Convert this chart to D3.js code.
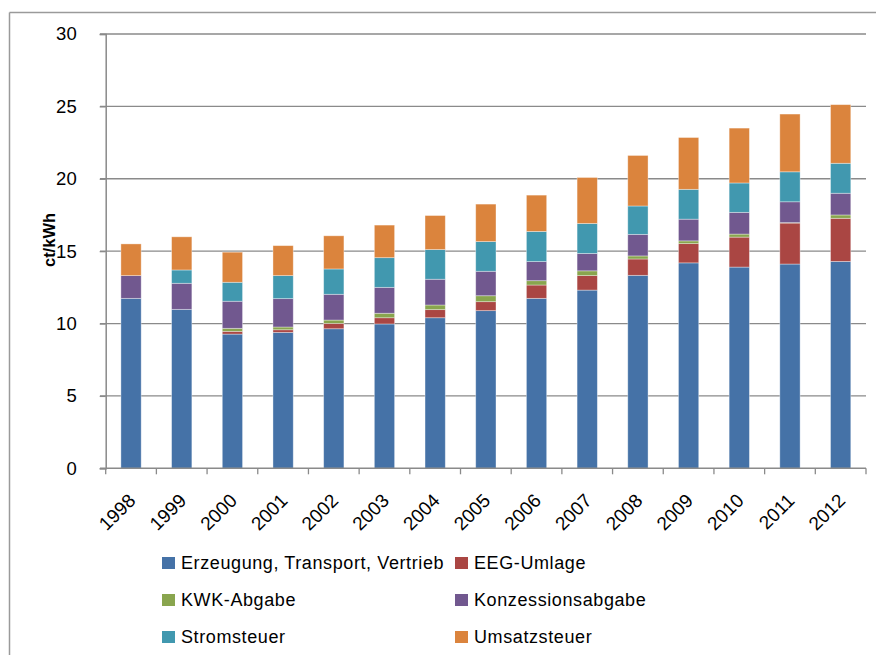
<!DOCTYPE html>
<html>
<head>
<meta charset="utf-8">
<script src="https://cdn.jsdelivr.net/npm/d3@7"></script>
<style>
  body { margin: 0; background: #fff; }
  svg { display: block; font-family: "Liberation Sans", Arial, sans-serif; }
</style>
</head>
<body>
<svg id="chart" width="876" height="655"></svg>
<script>
var years = ["1998", "1999", "2000", "2001", "2002", "2003", "2004", "2005", "2006", "2007", "2008", "2009", "2010", "2011", "2012"];
var seriesNames = ["Erzeugung, Transport, Vertrieb", "EEG-Umlage", "KWK-Abgabe", "Konzessionsabgabe", "Stromsteuer", "Umsatzsteuer"];
var erzeugung = [11.74, 10.98, 9.27, 9.39, 9.64, 9.97, 10.40, 10.89, 11.74, 12.31, 13.33, 14.19, 13.90, 14.11, 14.29];
var eeg = [0, 0, 0.19, 0.18, 0.37, 0.43, 0.56, 0.62, 0.92, 1.00, 1.13, 1.33, 2.07, 2.83, 2.98];
var kwk = [0, 0, 0.21, 0.19, 0.23, 0.31, 0.32, 0.41, 0.30, 0.33, 0.21, 0.19, 0.21, 0.03, 0.23];
var konzession = [1.57, 1.80, 1.87, 1.96, 1.78, 1.79, 1.78, 1.69, 1.32, 1.20, 1.49, 1.50, 1.50, 1.44, 1.50];
var stromsteuer = [0, 0.92, 1.31, 1.59, 1.75, 2.05, 2.05, 2.05, 2.08, 2.07, 1.96, 2.06, 2.03, 2.07, 2.07];
var umsatzsteuer = [2.19, 2.29, 2.08, 2.07, 2.29, 2.25, 2.35, 2.59, 2.51, 3.18, 3.49, 3.58, 3.79, 3.99, 4.05];
var yTicks = [0, 5, 10, 15, 20, 25, 30];
var colors = ["#4572A7", "#AA4643", "#89A54E", "#71588F", "#4198AF", "#DB843D"];

var svg = d3.select("#chart");
var gridColor = "#8a8a8a";

// table for the stack
var seriesValues = [erzeugung, eeg, kwk, konzession, stromsteuer, umsatzsteuer];
var rows = years.map(function(yr, i) {
  var r = { year: yr };
  seriesNames.forEach(function(n, k) { r[n] = seriesValues[k][i]; });
  return r;
});
var stacked = d3.stack().keys(seriesNames)(rows);

var x = d3.scaleBand().domain(years).range([105.7, 866]).paddingInner(0.6).paddingOuter(0.3);
var y = d3.scaleLinear().domain([0, 30]).range([468.3, 34]);

// outer frame (only top and left visible)
svg.append("line").attr("x1", 9.5).attr("y1", 12.5).attr("x2", 876).attr("y2", 12.5)
  .style("stroke", "#9a9a9a").style("stroke-width", "1.5px");
svg.append("line").attr("x1", 9.5).attr("y1", 12.5).attr("x2", 9.5).attr("y2", 655)
  .style("stroke", "#9a9a9a").style("stroke-width", "1.5px");

// gridlines
svg.append("g").selectAll("line")
  .data(yTicks.filter(function(t) { return t > 0; }))
  .enter().append("line")
  .attr("x1", 100).attr("x2", 866)
  .attr("y1", function(d) { return y(d); })
  .attr("y2", function(d) { return y(d); })
  .style("stroke", gridColor).style("stroke-width", "1.3px");

// bars
var barG = svg.append("g");
stacked.forEach(function(layer, k) {
  barG.append("g").selectAll("rect")
    .data(layer.filter(function(d) { return d[1] - d[0] > 0; }))
    .enter().append("rect")
    .attr("x", function(d) { return x(d.data.year); })
    .attr("width", x.bandwidth())
    .attr("y", function(d) { return y(d[1]); })
    .attr("height", function(d) { return y(d[0]) - y(d[1]); })
    .style("fill", colors[k])
    .style("stroke", "rgba(255,255,255,0.45)")
    .style("stroke-width", "0.8px");
});

// y axis
var yAxis = d3.axisLeft(y).tickValues(yTicks).tickSize(6).tickPadding(23);
var yg = svg.append("g").attr("transform", "translate(105.7,0)").call(yAxis);
yg.select(".domain").style("stroke", gridColor).style("stroke-width", "1.5px");
yg.selectAll(".tick line").style("stroke", gridColor).style("stroke-width", "1.3px");
yg.selectAll(".tick text").style("font-size", "18.5px").style("fill", "#000")
  .style("font-family", "Liberation Sans, Arial, sans-serif");

// x axis
var xg = svg.append("g").attr("transform", "translate(0,468.3)");
xg.append("line").attr("x1", 100).attr("x2", 866).attr("y1", 0).attr("y2", 0)
  .style("stroke", gridColor).style("stroke-width", "1.5px");
var bounds = [105.7].concat(years.map(function(yr) { return x(yr) - x.step() * x.paddingInner() / 2 + x.step(); }));
xg.selectAll(".xtick").data(bounds).enter().append("line")
  .attr("class", "xtick")
  .attr("x1", function(d) { return d; }).attr("x2", function(d) { return d; })
  .attr("y1", 0).attr("y2", 6)
  .style("stroke", gridColor).style("stroke-width", "1.3px");
svg.append("g").selectAll("text").data(years).enter().append("text")
  .attr("transform", function(d) {
    return "translate(" + (x(d) + x.bandwidth() / 2 + 1) + ",497) rotate(-45)";
  })
  .attr("text-anchor", "end")
  .attr("dy", "0.35em")
  .style("font-size", "19px")
  .text(function(d) { return d; });

// y title
svg.append("text")
  .attr("transform", "translate(49,240) rotate(-90)")
  .attr("text-anchor", "middle")
  .attr("dy", "0.35em")
  .style("font-size", "16.5px").style("font-weight", "bold")
  .text("ct/kWh");

// legend
var legendPos = [[162, 563], [455, 563], [162, 600], [455, 600], [162, 637], [455, 637]];
var legend = svg.append("g").selectAll("g").data(seriesNames).enter().append("g")
  .attr("transform", function(d, i) { return "translate(" + legendPos[i][0] + "," + legendPos[i][1] + ")"; });
legend.append("rect").attr("x", 0).attr("y", -6).attr("width", 13).attr("height", 12)
  .style("fill", function(d, i) { return colors[i]; });
legend.append("text").attr("x", 19).attr("dy", "0.35em")
  .style("font-size", "18px").style("letter-spacing", "0.6px")
  .text(function(d) { return d; });
</script>
</body>
</html>
